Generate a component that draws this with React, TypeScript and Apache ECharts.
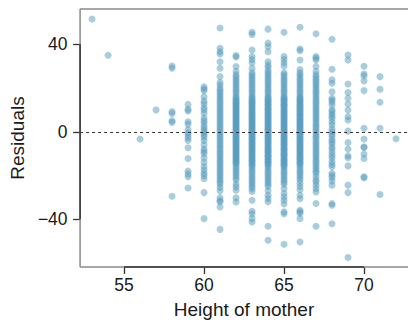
import { useEffect, useRef } from "react";
import * as echarts from "echarts";

const xTicks = [55, 60, 65, 70];
const yTicks = [-40, 0, 40];

const r53 = [51.5];
const r54 = [35];
const r56 = [-3.3];
const r57 = [10];
const r58 = [30, 29, 9.2, 8.3, 5, 4.3, -29.5];
const r59 = [12.5, 10.3, 9.5, 4.6, 3.5, 1, -0.5, -1.5, -2.8, -4, -7.3, -12.2, -18, -19.3, -20.6, -25.7];
const r60 = [20.5, 19.5, 18.8, 16, 14, 12.8, 11, 10, 8.5, 6.3, 5, 4, 2.5, 1.5, 0.5, -0.5, -1.5, -2.5, -4, -6, -8, -9, -10, -12, -14, -16, -17.5, -19, -20, -21.5, -27.8, -39.7];
const r61 = [47.4, 38.2, 36.6, 35.5, 32, 29, 25.2, 22.5, 21.4, 20, 19, 18, 17, 16, 15, 14, 13, 12, 11, 10, 9, 8, 7, 6, 5, 4, 3, 2, 1, 0, -1, -2, -3, -4, -5, -6, -7, -8, -9, -10, -11, -12, -13, -14, -15, -16, -17, -18, -19, -20, -21, -22, -23, -24, -25.5, -27, -30.2, -31.5, -32, -34.4, -44.6];
const r62 = [34.8, 34.2, 29.8, 27.5, 26, 25, 24, 23, 22, 21, 20, 19, 18, 17, 16, 15.2, 14.6, 14, 13.4, 12.9, 12.3, 11.8, 11.1, 10.6, 10, 9.5, 8.8, 8.3, 7.7, 7.1, 6.6, 6, 5.4, 4.9, 4.3, 3.7, 3.2, 2.6, 2, 1.5, 0.9, 0.3, -0.2, -0.8, -1.4, -1.9, -2.5, -3.1, -3.6, -4.2, -4.8, -5.3, -5.9, -6.5, -7, -7.6, -8.2, -8.7, -9.3, -9.9, -10.4, -11, -11.6, -12.1, -12.7, -13.3, -13.8, -14.4, -15, -16, -17, -18, -19, -20, -21, -22, -24, -25.2, -26.7, -30.2, -32.1];
const r63 = [45.5, 44.5, 37.4, 34.4, 33, 31.5, 29, 27, 26, 25, 24, 23, 22, 21, 20, 19, 18, 17, 16, 15.3, 14.7, 14.1, 13.5, 13, 12.4, 11.8, 11.2, 10.6, 10.1, 9.5, 8.9, 8.3, 7.8, 7.2, 6.6, 6, 5.5, 4.9, 4.3, 3.7, 3.2, 2.6, 2, 1.4, 0.9, 0.3, -0.3, -0.9, -1.4, -2, -2.6, -3.2, -3.7, -4.3, -4.9, -5.5, -6, -6.6, -7.2, -7.8, -8.3, -8.9, -9.5, -10.1, -10.6, -11.2, -11.8, -12.4, -13, -13.5, -14.1, -14.7, -15.3, -16, -17, -18, -19, -20, -21, -22, -23, -24, -25, -26, -27.3, -31.3, -36.3, -37.5, -39.7, -41.2];
const r64 = [46.9, 40.5, 38.9, 36.6, 32, 30.5, 29.5, 28, 27, 26, 25, 24, 23, 22, 21, 20, 19, 18, 17, 16, 15.4, 14.8, 14.3, 13.7, 13.1, 12.6, 12, 11.4, 10.9, 10.3, 9.7, 9.2, 8.6, 8, 7.5, 6.9, 6.3, 5.8, 5.2, 4.6, 4.1, 3.5, 2.9, 2.4, 1.8, 1.2, 0.7, 0.1, -0.5, -1, -1.6, -2.2, -2.7, -3.3, -3.9, -4.4, -5, -5.6, -6.1, -6.7, -7.3, -7.8, -8.4, -9, -9.5, -10.1, -10.7, -11.2, -11.8, -12.4, -12.9, -13.5, -14.1, -14.6, -15.2, -16, -17, -18, -19, -20, -21, -22, -23, -24, -25, -27, -29, -30.5, -32, -43.2, -49.6];
const r65 = [45.5, 34.4, 33, 31.5, 30, 27, 26, 25, 24, 23, 22, 21, 20, 19, 18, 17, 16, 15.4, 14.9, 14.3, 13.8, 13.2, 12.6, 12.1, 11.5, 11, 10.4, 9.8, 9.3, 8.7, 8.2, 7.6, 7, 6.5, 5.9, 5.4, 4.8, 4.2, 3.7, 3.1, 2.6, 2, 1.4, 0.9, 0.3, -0.2, -0.8, -1.4, -1.9, -2.5, -3, -3.6, -4.2, -4.7, -5.3, -5.8, -6.4, -7, -7.5, -8.1, -8.6, -9.2, -9.8, -10.3, -10.9, -11.4, -12, -12.6, -13.1, -13.7, -14.2, -14.8, -15.4, -16, -17, -18, -19, -20, -21, -22, -23, -24, -26, -28.2, -29.8, -31.3, -33, -36.6, -37.5, -51.4];
const r66 = [47.8, 37.8, 37, 32.8, 28.4, 27, 26, 25, 24, 23, 22, 21, 20, 19, 18, 17, 16, 15.4, 14.8, 14.2, 13.7, 13.1, 12.5, 11.9, 11.4, 10.8, 10.2, 9.6, 9.1, 8.5, 7.9, 7.3, 6.8, 6.2, 5.6, 5, 4.5, 3.9, 3.3, 2.7, 2.2, 1.6, 1, 0.4, -0.1, -0.7, -1.3, -1.9, -2.4, -3, -3.6, -4.2, -4.7, -5.3, -5.9, -6.5, -7, -7.6, -8.2, -8.8, -9.3, -9.9, -10.5, -11.1, -11.6, -12.2, -12.8, -13.4, -13.9, -14.5, -15.1, -16, -17, -18, -19, -20, -21, -22, -23.5, -25, -26.5, -29, -30.6, -35.9, -36.6, -37.2, -39.7, -50.4];
const r67 = [44.8, 34.4, 33.6, 32.8, 29.8, 27.5, 26, 25, 24, 23, 22, 21, 20, 19, 18, 17, 16, 15, 14, 13, 12, 11, 10, 9, 8, 7, 6, 5, 4, 3, 2, 1, 0, -1, -2, -3, -4, -5, -6, -7, -8, -9, -10, -11, -12, -13, -14, -15, -16, -17, -18, -19, -20.5, -22, -23, -24.5, -26, -27.5, -32.8, -43.2];
const r68 = [42.3, 28.6, 23.7, 22.2, 18.3, 15.3, 14.5, 13.5, 12.2, 10, 9.2, 8, 7, 6, 4.5, 3.1, 1.2, 0, -1, -2, -3.5, -4.5, -5.5, -7, -8, -9.5, -10.8, -12, -13.7, -15, -16, -19, -20, -21, -22.5, -24.4, -32.8, -33.6, -42];
const r69 = [35.1, 32.8, 21.8, 17.9, 15.3, 12.7, 9.9, 6.9, 5.4, 0.3, -4.9, -7.9, -11, -11.9, -15.6, -24.4, -27.8, -57.5];
const r70 = [29.9, 26.4, 25.6, 23.2, 18.8, 1.6, -3.3, -6.9, -7.2, -10.2, -12.2, -20.6, -21];
const r71 = [25.2, 19.4, 13.5, 1.6, -28.7];
const r72 = [-3.2];

const heights = [53, 54, 56, 57, 58, 59, 60, 61, 62, 63, 64, 65, 66, 67, 68, 69, 70, 71, 72];
const residualColumns = [r53, r54, r56, r57, r58, r59, r60, r61, r62, r63, r64, r65, r66, r67, r68, r69, r70, r71, r72];

const X_MIN = 52.25;
const X_MAX = 72.75;
const Y_MIN = -61.8;
const Y_MAX = 56.1;

const FONT = "'Liberation Sans', Arial, Helvetica, sans-serif";

export default function App() {
  const ref = useRef<HTMLDivElement>(null);

  useEffect(() => {
    if (!ref.current) return;
    const chart = echarts.init(ref.current, null, { renderer: "svg" });

    const points: number[][] = [];
    heights.forEach((h, i) => {
      residualColumns[i].forEach((r) => points.push([h, r]));
    });

    const fmt = (v: number) => (v < 0 ? "\u2212" + Math.abs(v) : String(v));

    chart.setOption({
      animation: false,
      backgroundColor: "#ffffff",
      grid: { left: 70, top: 9, width: 345, height: 258, containLabel: false },
      xAxis: {
        type: "value",
        min: X_MIN,
        max: X_MAX,
        name: "Height of mother",
        nameLocation: "middle",
        nameGap: 33,
        nameTextStyle: { fontFamily: FONT, fontSize: 19, color: "#1a1a1a" },
        axisLine: { show: false, onZero: false },
        axisTick: { show: true, length: 7, customValues: xTicks, lineStyle: { color: "#333", width: 1.3 } },
        axisLabel: { customValues: xTicks, margin: 9, fontFamily: FONT, fontSize: 17.5, color: "#1a1a1a" },
        splitLine: { show: false },
      },
      yAxis: {
        type: "value",
        min: Y_MIN,
        max: Y_MAX,
        name: "Residuals",
        nameLocation: "middle",
        nameRotate: 90,
        nameGap: 41,
        nameTextStyle: { fontFamily: FONT, fontSize: 19, color: "#1a1a1a" },
        axisLine: { show: false, onZero: false },
        axisTick: { show: true, length: 7, customValues: yTicks, lineStyle: { color: "#333", width: 1.3 } },
        axisLabel: { customValues: yTicks, margin: 12.5, fontFamily: FONT, fontSize: 17.5, color: "#1a1a1a", formatter: fmt },
        splitLine: { show: false },
      },
      series: [
        {
          type: "scatter",
          data: points,
          symbol: "circle",
          symbolSize: 7,
          itemStyle: { color: "#569BBD", opacity: 0.5 },
          markLine: {
            silent: true,
            symbol: ["none", "none"],
            label: { show: false },
            z: 10,
            lineStyle: { color: "#333", width: 1, type: [3, 3] },
            data: [{ yAxis: 0 }],
          },
        },
      ],
    });

    const p = (x: number, y: number) => chart.convertToPixel({ gridIndex: 0 }, [x, y]) as number[];
    const [xl, yb] = p(X_MIN, Y_MIN);
    const [xr, yt] = p(X_MAX, Y_MAX);
    const [x55] = p(xTicks[0], 0);
    const [x70] = p(xTicks[xTicks.length - 1], 0);
    const [, yLow] = p(0, yTicks[0]);
    const [, yHigh] = p(0, yTicks[yTicks.length - 1]);
    const gray = "#8a8a8a";
    const dark = "#333333";
    const lw = 1.5;
    chart.setOption({
      graphic: [
        { type: "line", z: 20, shape: { x1: xl, y1: yt, x2: xr, y2: yt }, style: { stroke: gray, lineWidth: lw } },
        { type: "line", z: 20, shape: { x1: xl, y1: yt, x2: xl, y2: yb }, style: { stroke: gray, lineWidth: lw } },
        { type: "line", z: 20, shape: { x1: xl, y1: yb, x2: xr, y2: yb }, style: { stroke: gray, lineWidth: lw } },
        { type: "line", z: 21, shape: { x1: xl, y1: yLow, x2: xl, y2: yHigh }, style: { stroke: dark, lineWidth: lw } },
        { type: "line", z: 21, shape: { x1: x55, y1: yb, x2: x70, y2: yb }, style: { stroke: dark, lineWidth: lw } },
      ],
    });

    return () => chart.dispose();
  }, []);

  return (
    <div
      ref={ref}
      style={{ position: "absolute", left: 0, top: 0, width: 408, height: 324, overflow: "hidden" }}
    />
  );
}
